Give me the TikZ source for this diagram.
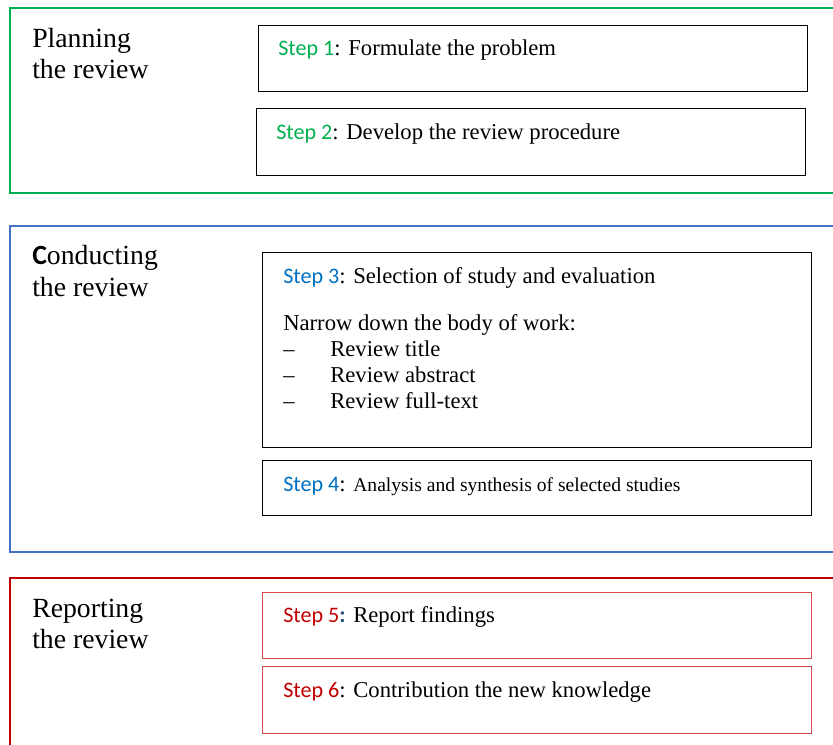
\documentclass[tikz,border=0pt]{standalone}
\usepackage{fontspec}
\setmainfont{Liberation Serif}
\newfontfamily\stepfont{Carlito}

\definecolor{planGreen}{HTML}{00B050}
\definecolor{condBlue}{HTML}{4472C4}
\definecolor{stepBlue}{HTML}{0070C0}
\definecolor{repRed}{HTML}{C00000}
\definecolor{colonBlue}{HTML}{1F4E79}

\tikzset{
  phase/.style={line width=2.2pt},
  stepbox/.style={draw, line width=0.9pt, anchor=north west, inner sep=0pt},
  phasetxt/.style={anchor=base west, inner sep=0pt, font=\fontsize{20.8}{25}\selectfont},
  steptxt/.style={anchor=base west, inner sep=0pt, font=\fontsize{17}{20}\selectfont},
}
\newcommand{\stepno}[2]{{\stepfont\fontsize{16.6}{20}\selectfont\textcolor{#1}{Step #2}}}

\begin{document}
\begin{tikzpicture}[x=0.75pt, y=-0.75pt]
    \useasboundingbox (0,0) rectangle (833,744);
    \clip (0,0) rectangle (833,744);

    % Fases
    \draw[phase, planGreen] (10,8) rectangle (850,193);
    \draw[phase, condBlue] (10,226) rectangle (850,552);
    \draw[phase, repRed] (10,578) rectangle (850,760);

    \node[phasetxt] (plan1) at (32,47) {Planning};
    \node[phasetxt] (plan2) at (32,78) {the review};
    \node[phasetxt] (cond1) at (32,264) {{\stepfont\bfseries C}onducting};
    \node[phasetxt] (cond2) at (32,296) {the review};
    \node[phasetxt] (rep1) at (32,617) {Reporting};
    \node[phasetxt] (rep2) at (32,648) {the review};

    % Cajas de pasos
    \node[stepbox, minimum width=549*0.75pt, minimum height=66*0.75pt] (b1) at (258,25) {};
    \node[stepbox, minimum width=549*0.75pt, minimum height=67*0.75pt] (b2) at (256,108) {};
    \node[stepbox, minimum width=549*0.75pt, minimum height=195*0.75pt] (b3) at (262,252) {};
    \node[stepbox, minimum width=549*0.75pt, minimum height=55*0.75pt] (b4) at (262,460) {};
    \node[stepbox, draw=repRed!70, minimum width=549*0.75pt, minimum height=66*0.75pt] (b5) at (262,592) {};
    \node[stepbox, draw=repRed!70, minimum width=549*0.75pt, minimum height=67*0.75pt] (b6) at (262,666) {};

    % Textos
    \node[steptxt] (t1) at (278,55) {\stepno{planGreen}{1}: Formulate the problem};
    \node[steptxt] (t2) at (276,139) {\stepno{planGreen}{2}: Develop the review procedure};
    \node[steptxt] (t3) at (283,283) {\stepno{stepBlue}{3}: Selection of study and evaluation};
    \node[steptxt] (t3a) at (283,330) {Narrow down the body of work:};
    \foreach \y/\item [count=\i] in {356/Review title, 382/Review abstract, 408/Review full-text} {
        \node[steptxt] (d\i) at (283,\y) {--};
        \node[steptxt] (li\i) at (330,\y) {\item};
    }
    \node[steptxt] (t4) at (283,491) {\stepno{stepBlue}{4}: {\fontsize{14.7}{17}\selectfont Analysis and synthesis of selected studies}};
    \node[steptxt] (t5) at (283,622) {\stepno{repRed}{5}{\stepfont\bfseries\color{colonBlue}:} Report findings};
    \node[steptxt] (t6) at (283,697) {\stepno{repRed}{6}: Contribution the new knowledge};
\end{tikzpicture}
\end{document}
